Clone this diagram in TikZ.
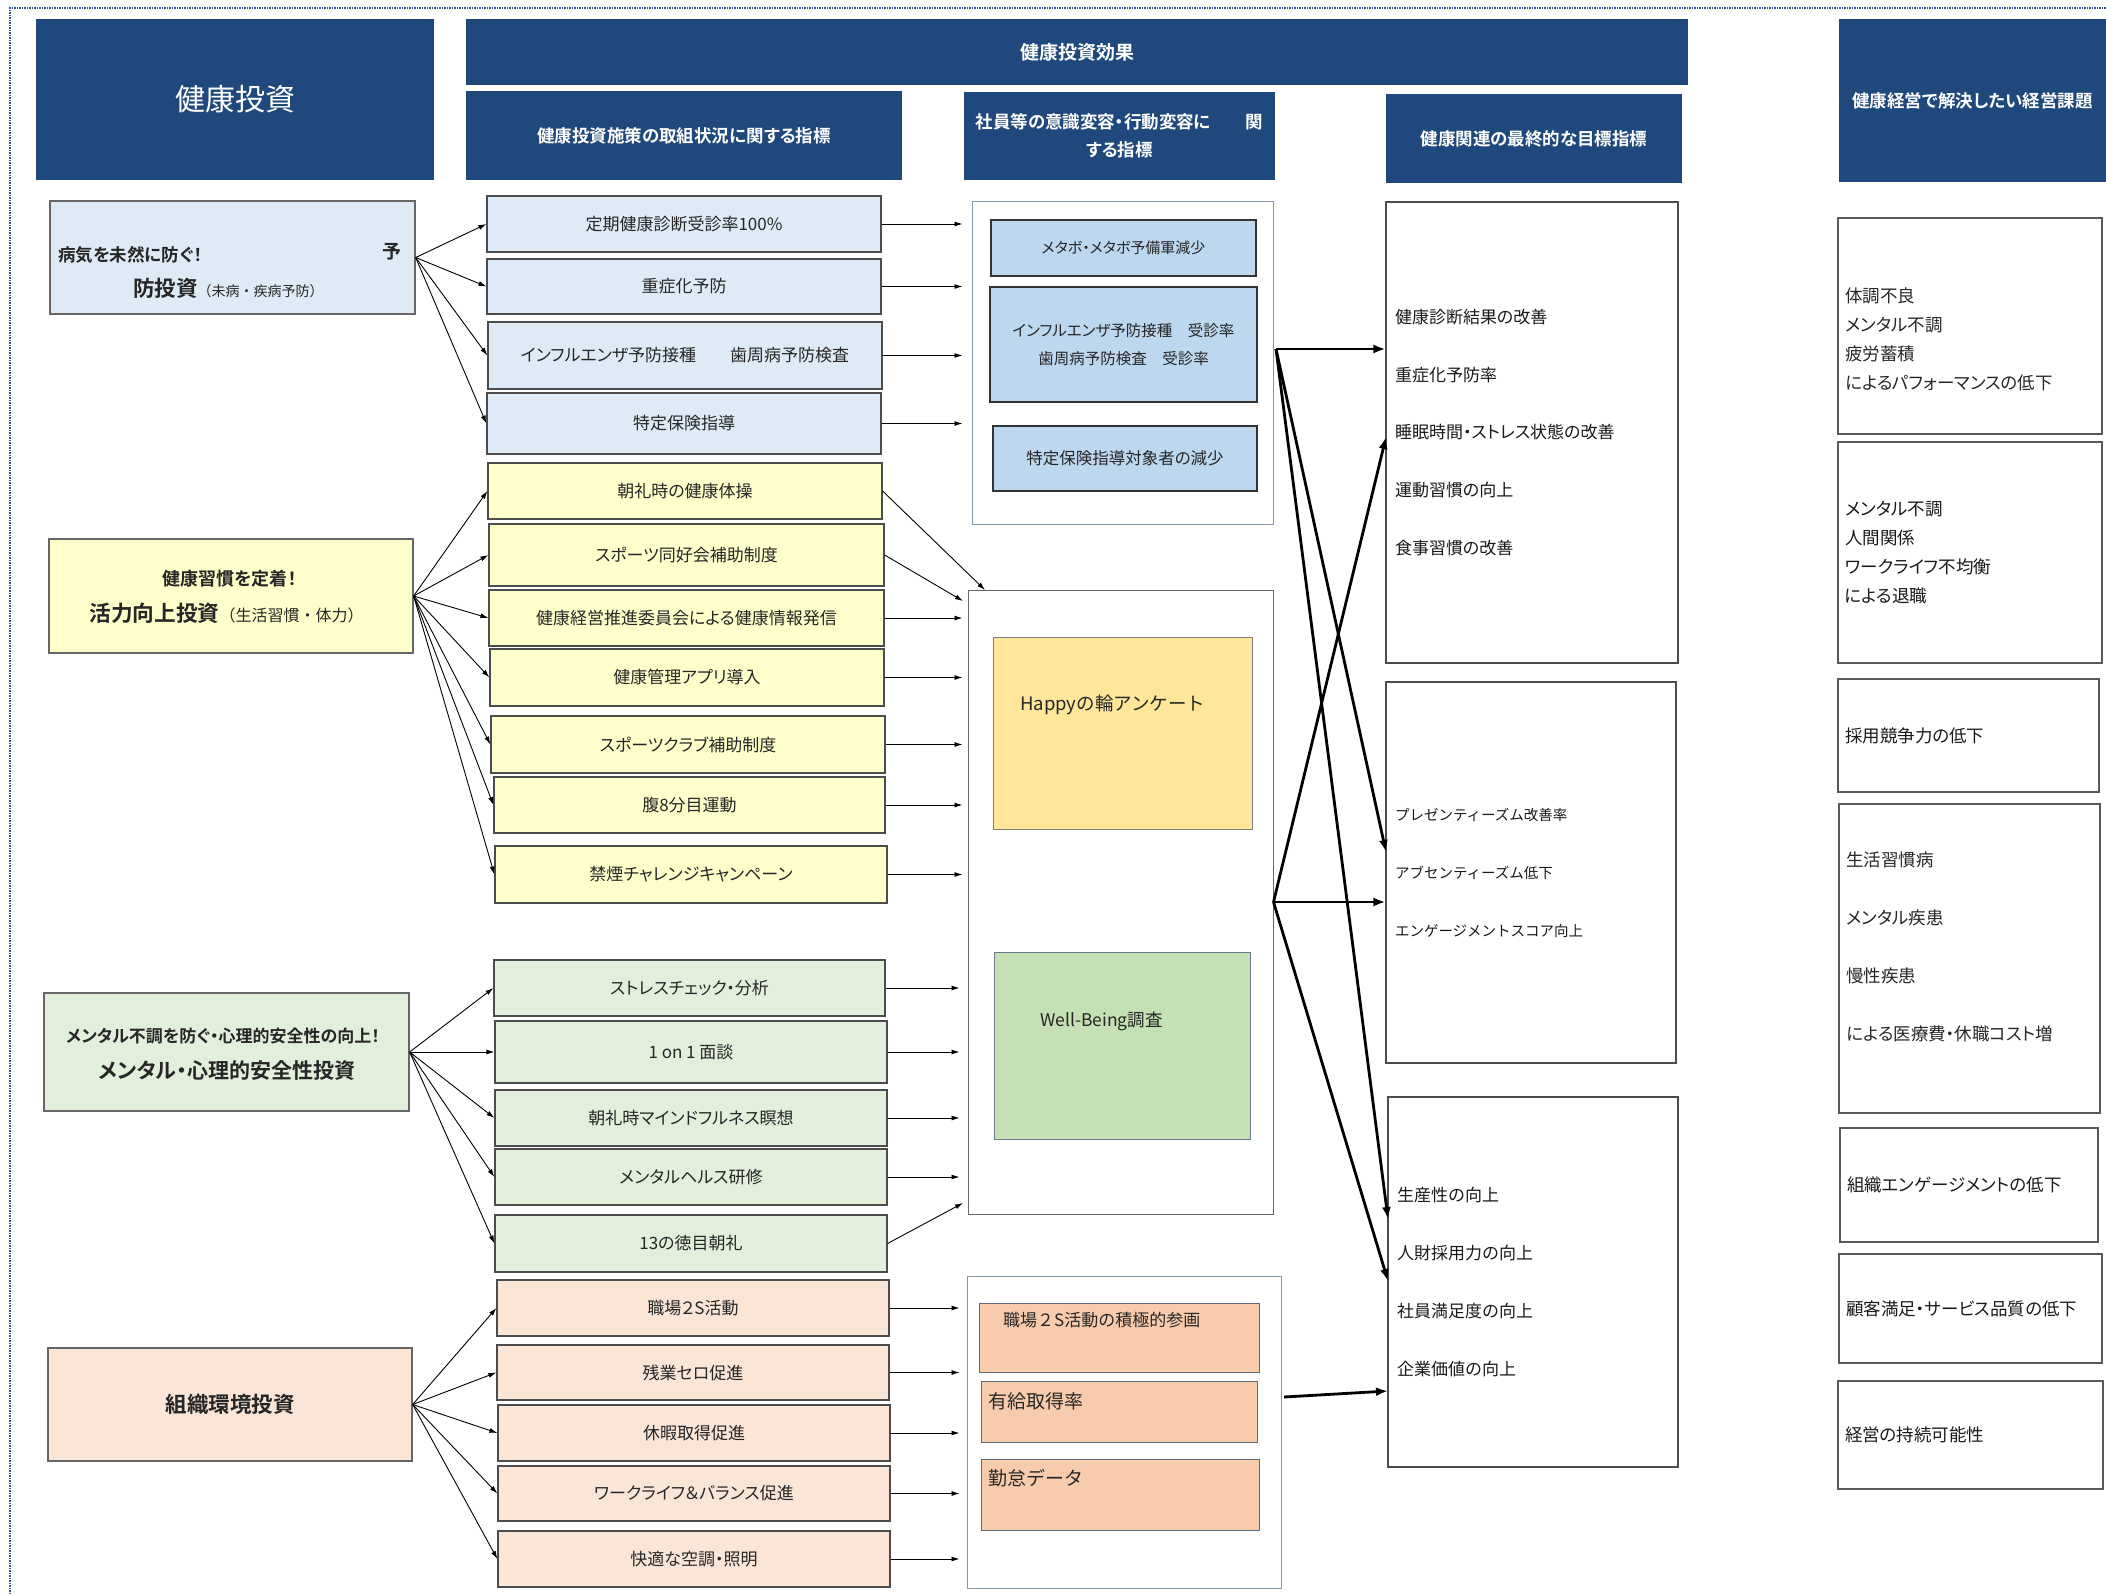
\documentclass[tikz,border=0pt]{standalone}
\usepackage{fontspec}
\setmainfont{Noto Sans CJK JP}[RawFeature=+palt, BoldFont={Noto Sans CJK JP Bold}]
\newfontfamily\widefont{Noto Sans CJK JP}
\usetikzlibrary{arrows.meta}
\definecolor{hdrblue}{RGB}{31,73,125}
\definecolor{fillA}{RGB}{222,235,247}
\definecolor{fillB}{RGB}{255,255,204}
\definecolor{fillC}{RGB}{226,239,218}
\definecolor{fillD}{RGB}{251,229,214}
\definecolor{effblue}{RGB}{189,215,238}
\definecolor{happy}{RGB}{255,230,153}
\definecolor{wellb}{RGB}{197,224,180}
\definecolor{peach}{RGB}{248,203,173}
\definecolor{slate}{RGB}{132,151,176}
\definecolor{dotblue}{RGB}{47,85,151}
\tikzset{
  sz/.style 2 args={minimum width=#1pt,minimum height=#2pt},
  hdr/.style={fill=hdrblue,text=white,inner sep=0pt,font=\fontsize{17.5}{28}\selectfont\bfseries},
  inv/.style={draw=gray!80!black,line width=1.3pt,inner sep=0pt,text=black!85},
  meas/.style={draw=gray!60!black,line width=1.2pt,inner sep=0pt,text=black!85,font=\fontsize{17}{20}\selectfont},
  grp/.style={draw=#1,line width=1pt,inner sep=0pt},
  eff/.style={draw=black!80,line width=1.1pt,inner sep=0pt,text=black!85},
  goal/.style={draw=black!70,line width=1.1pt,inner xsep=9pt,inner ysep=0pt,align=left,text=black!90},
  issue/.style={draw=gray!70!black,line width=1.1pt,inner xsep=7pt,inner ysep=0pt,align=left,text=black!90,font=\fontsize{17.5}{29}\selectfont},
  txt/.style={inner sep=0pt,text=black!85},
  arr/.style={-{Latex[length=8pt,width=5pt]},line width=0.9pt},
  fat/.style={-{Latex[length=12pt,width=9pt]},line width=2.8pt}
}
\begin{document}
\begin{tikzpicture}[x=1pt,y=-1pt]
  \useasboundingbox (0,0) rectangle (2106,1594);
  \draw[dotblue,densely dotted,line width=1.5pt] (10,1594) -- (10,8) -- (2106,8);

  % headers
  \node[hdr,sz={398}{161},font=\fontsize{30}{36}\selectfont] (hInv) at (235,99.5) {健康投資};
  \node[hdr,sz={1222}{66},font=\fontsize{19}{24}\selectfont\bfseries] (hEff) at (1077,52) {健康投資効果};
  \node[hdr,sz={436}{89}] (hMeas) at (684,135.5) {健康投資施策の取組状況に関する指標};
  \node[hdr,sz={311}{88},align=center] (hAware) at (1119.5,136) {社員等の意識変容・行動変容に\hspace{2em}関\\する指標};
  \node[hdr,sz={296}{89}] (hGoal) at (1534,138.5) {健康関連の最終的な目標指標};
  \node[hdr,sz={267}{163}] (hIssue) at (1972.5,100.5) {健康経営で解決したい経営課題};

  % investments
  \node[inv,fill=fillA,sz={365}{113}] (yobo) at (232.5,257.5) {};
  \node[txt,anchor=west,font=\fontsize{17.5}{20}\selectfont\bfseries] (yoboA) at (58,255) {病気を未然に防ぐ！};
  \node[txt,font=\fontsize{19}{22}\selectfont\bfseries] (yoboB) at (392,252) {予};
  \node[txt,anchor=west] (yoboC) at (133,288) {{\fontsize{21.5}{24}\selectfont\bfseries 防投資}{\widefont\fontsize{14}{16}\selectfont（未病・疾病予防）}};

  \node[inv,fill=fillB,sz={364}{114}] (katsu) at (231,596) {};
  \node[txt,font=\fontsize{18}{20}\selectfont\bfseries] (katsuA) at (229.5,579) {健康習慣を定着！};
  \node[txt] (katsuB) at (226.5,613) {{\fontsize{21.7}{24}\selectfont\bfseries 活力向上投資}{\widefont\fontsize{16}{18}\selectfont（生活習慣・体力）}};

  \node[inv,fill=fillC,sz={365}{118}] (mental) at (226.5,1052) {};
  \node[txt,font=\fontsize{17}{20}\selectfont\bfseries] (mentalA) at (223,1036) {メンタル不調を防ぐ・心理的安全性の向上！};
  \node[txt,font=\fontsize{21}{24}\selectfont\bfseries] (mentalB) at (227,1071) {メンタル・心理的安全性投資};

  \node[inv,fill=fillD,sz={364}{113},font=\fontsize{21.5}{24}\selectfont\bfseries] (soshiki) at (230,1404.5) {組織環境投資};

  % measures
  \node[meas,fill=fillA,sz={394}{56}] (m1) at (684,224) {定期健康診断受診率100\%};
  \node[meas,fill=fillA,sz={394}{55}] (m2) at (684,286.5) {重症化予防};
  \node[meas,fill=fillA,sz={394}{67}] (m3) at (685,355.5) {インフルエンザ予防接種\hspace{2em}歯周病予防検査};
  \node[meas,fill=fillA,sz={394}{61}] (m4) at (684,423.5) {特定保険指導};

  \node[meas,fill=fillB,sz={394}{56}] (k1) at (685,491) {朝礼時の健康体操};
  \node[meas,fill=fillB,sz={395}{62}] (k2) at (686.5,555) {スポーツ同好会補助制度};
  \node[meas,fill=fillB,sz={395}{56}] (k3) at (686.5,618) {健康経営推進委員会による健康情報発信};
  \node[meas,fill=fillB,sz={394}{57}] (k4) at (687,677.5) {健康管理アプリ導入};
  \node[meas,fill=fillB,sz={394}{57}] (k5) at (688,744.5) {スポーツクラブ補助制度};
  \node[meas,fill=fillB,sz={391}{56}] (k6) at (689.5,805) {腹8分目運動};
  \node[meas,fill=fillB,sz={392}{57}] (k7) at (691,874.5) {禁煙チャレンジキャンペーン};

  \node[meas,fill=fillC,sz={391}{56}] (s1) at (689.5,988) {ストレスチェック・分析};
  \node[meas,fill=fillC,sz={392}{62}] (s2) at (691,1052) {1 on 1 面談};
  \node[meas,fill=fillC,sz={392}{56}] (s3) at (691,1118) {朝礼時マインドフルネス瞑想};
  \node[meas,fill=fillC,sz={392}{56}] (s4) at (691,1177) {メンタルヘルス研修};
  \node[meas,fill=fillC,sz={392}{57}] (s5) at (691,1243.5) {13の徳目朝礼};

  \node[meas,fill=fillD,sz={392}{56}] (o1) at (693,1308) {職場２S活動};
  \node[meas,fill=fillD,sz={392}{55}] (o2) at (693,1372.5) {残業セロ促進};
  \node[meas,fill=fillD,sz={392}{56}] (o3) at (694,1433) {休暇取得促進};
  \node[meas,fill=fillD,sz={392}{55}] (o4) at (694,1493.5) {ワークライフ＆バランス促進};
  \node[meas,fill=fillD,sz={392}{56}] (o5) at (694,1559) {快適な空調・照明};

  % awareness
  \node[grp=slate,sz={301}{322}] (g1) at (1122.5,363) {};
  \node[eff,fill=effblue,sz={265}{56},font=\fontsize{15}{18}\selectfont] (a1) at (1123.5,248) {メタボ・メタボ予備軍減少};
  \node[eff,fill=effblue,sz={267}{115},align=center,font=\fontsize{15.5}{28}\selectfont] (a2) at (1123.5,344.5) {インフルエンザ予防接種　受診率\\歯周病予防検査　受診率};
  \node[eff,fill=effblue,sz={264}{65},font=\fontsize{16.5}{20}\selectfont] (a3) at (1125,458.5) {特定保険指導対象者の減少};

  \node[grp=gray!80!black,sz={305}{624}] (g2) at (1120.5,902) {};
  \node[grp=gray,fill=happy,sz={259}{192}] (a4) at (1122.5,733) {};
  \node[txt,anchor=west,font=\widefont\fontsize{18.5}{22}\selectfont] (a4t) at (1020,705) {Happyの輪アンケート};
  \node[grp=slate!80!black,fill=wellb,sz={256}{187}] (a5) at (1122,1045.5) {};
  \node[txt,anchor=west,font=\widefont\fontsize{17.5}{22}\selectfont] (a5t) at (1040,1021) {Well-Being調査};

  \node[grp=slate,sz={314}{312}] (g3) at (1124,1432) {};
  \node[grp=slate!70!black,fill=peach,sz={280}{69}] (a6) at (1119,1337.5) {};
  \node[txt,anchor=west,font=\widefont\fontsize{17}{20}\selectfont] (a6t) at (1003,1320) {職場２S活動の積極的参画};
  \node[grp=slate!70!black,fill=peach,sz={276}{61}] (a7) at (1119,1411.5) {};
  \node[txt,anchor=west,font=\widefont\fontsize{19}{22}\selectfont] (a7t) at (988,1401) {有給取得率};
  \node[grp=slate!70!black,fill=peach,sz={278}{71}] (a8) at (1120,1494.5) {};
  \node[txt,anchor=west,font=\widefont\fontsize{19}{22}\selectfont] (a8t) at (988,1478) {勤怠データ};

  % goals
  \node[goal,sz={292}{461},text width=274pt,font=\fontsize{17}{57.7}\selectfont] (t1) at (1532,432.5)
    {健康診断結果の改善\\重症化予防率\\睡眠時間・ストレス状態の改善\\運動習慣の向上\\食事習慣の改善};
  \node[goal,sz={290}{381},text width=272pt,font=\widefont\fontsize{14.5}{58}\selectfont] (t2) at (1531,872.5)
    {プレゼンティーズム改善率\\アブセンティーズム低下\\エンゲージメントスコア向上};
  \node[goal,sz={290}{370},text width=272pt,font=\widefont\fontsize{17}{58}\selectfont] (t3) at (1533,1282)
    {生産性の向上\\人財採用力の向上\\社員満足度の向上\\企業価値の向上};

  % issues
  \node[issue,sz={264}{216}] (r1) at (1970,326) {};
  \node[txt,anchor=west,align=left,font=\fontsize{17.5}{29}\selectfont] (r1t) at (1845,339.5) {体調不良\\メンタル不調\\疲労蓄積\\によるパフォーマンスの低下};
  \node[issue,sz={264}{221},text width=250pt] (r2) at (1970,552.5) {メンタル不調\\人間関係\\ワークライフ不均衡\\による退職};
  \node[issue,sz={261}{113},text width=247pt] (r3) at (1968.5,735.5) {採用競争力の低下};
  \node[issue,sz={261}{309}] (r4) at (1969.5,958.5) {};
  \node[txt,anchor=west,align=left,font=\fontsize{17.5}{58}\selectfont] (r4t) at (1846,947) {生活習慣病\\メンタル疾患\\慢性疾患\\による医療費・休職コスト増};
  \node[issue,sz={258}{114},text width=244pt] (r5) at (1969,1185) {組織エンゲージメントの低下};
  \node[issue,sz={263}{109},text width=249pt] (r6) at (1970.5,1308.5) {顧客満足・サービス品質の低下};
  \node[issue,sz={265}{108},text width=251pt] (r7) at (1970.5,1435) {経営の持続可能性};

  % investment -> measure
  \draw[arr] (yobo.east) -- (m1.west);
  \draw[arr] (yobo.east) -- (m2.west);
  \draw[arr] (yobo.east) -- (m3.west);
  \draw[arr] (yobo.east) -- (m4.west);
  \draw[arr] (katsu.east) -- (k1.west);
  \draw[arr] (katsu.east) -- (k2.west);
  \draw[arr] (katsu.east) -- (k3.west);
  \draw[arr] (katsu.east) -- (k4.west);
  \draw[arr] (katsu.east) -- (k5.west);
  \draw[arr] (katsu.east) -- (k6.west);
  \draw[arr] (katsu.east) -- (k7.west);
  \draw[arr] (mental.east) -- (s1.west);
  \draw[arr] (mental.east) -- (s2.west);
  \draw[arr] (mental.east) -- (s3.west);
  \draw[arr] (mental.east) -- (s4.west);
  \draw[arr] (mental.east) -- (s5.west);
  \draw[arr] (soshiki.east) -- (o1.west);
  \draw[arr] (soshiki.east) -- (o2.west);
  \draw[arr] (soshiki.east) -- (o3.west);
  \draw[arr] (soshiki.east) -- (o4.west);
  \draw[arr] (soshiki.east) -- (o5.west);

  % measure -> awareness
  \coordinate (k1in) at (985,590);
  \coordinate (k2in) at (963,601);
  \coordinate (s5in) at (963,1203);
  \draw[arr,shorten >=9pt] (m1.east) -- (m1.east -| g1.west);
  \draw[arr,shorten >=9pt] (m2.east) -- (m2.east -| g1.west);
  \draw[arr,shorten >=9pt] (m3.east) -- (m3.east -| g1.west);
  \draw[arr,shorten >=9pt] (m4.east) -- (m4.east -| g1.west);
  \draw[arr] (k1.east) -- (k1in);
  \draw[arr] (k2.east) -- (k2in);
  \draw[arr,shorten >=5pt] (k3.east) -- (k3.east -| g2.west);
  \draw[arr,shorten >=5pt] (k4.east) -- (k4.east -| g2.west);
  \draw[arr,shorten >=5pt] (k5.east) -- (k5.east -| g2.west);
  \draw[arr,shorten >=5pt] (k6.east) -- (k6.east -| g2.west);
  \draw[arr,shorten >=5pt] (k7.east) -- (k7.east -| g2.west);
  \draw[arr,shorten >=8pt] (s1.east) -- (s1.east -| g2.west);
  \draw[arr,shorten >=8pt] (s2.east) -- (s2.east -| g2.west);
  \draw[arr,shorten >=8pt] (s3.east) -- (s3.east -| g2.west);
  \draw[arr,shorten >=8pt] (s4.east) -- (s4.east -| g2.west);
  \draw[arr] (s5.east) -- (s5in);
  \draw[arr,shorten >=7pt] (o1.east) -- (o1.east -| g3.west);
  \draw[arr,shorten >=7pt] (o2.east) -- (o2.east -| g3.west);
  \draw[arr,shorten >=7pt] (o3.east) -- (o3.east -| g3.west);
  \draw[arr,shorten >=7pt] (o4.east) -- (o4.east -| g3.west);
  \draw[arr,shorten >=7pt] (o5.east) -- (o5.east -| g3.west);

  % awareness -> goals
  \coordinate (hub1) at (1276,349);
  \coordinate (hub3) at (1284,1397);
  \coordinate (t1b) at (1386,437);
  \coordinate (t2a) at (1386,852);
  \coordinate (t3a) at (1388,1219);
  \coordinate (t3b) at (1388,1281);
  \coordinate (t3c) at (1388,1391);
  \draw[fat] (hub1) -- (hub1 -| t1.west);
  \draw[fat] (hub1) -- (t2a);
  \draw[fat] (hub1) -- (t3a);
  \draw[fat] (g2.east) -- (t1b);
  \draw[fat] (g2.east) -- (g2.east -| t2.west);
  \draw[fat] (g2.east) -- (t3b);
  \draw[fat] (hub3) -- (t3c);
\end{tikzpicture}
\end{document}
